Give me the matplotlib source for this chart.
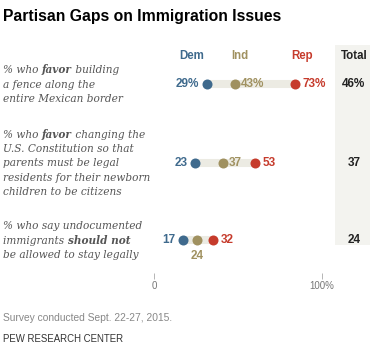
import matplotlib.pyplot as plt
from matplotlib.patches import Rectangle

# data
parties = ['Dem', 'Ind', 'Rep']
party_colors = ['#3f6a8d', '#a09160', '#c63b2c']
dem = [29, 23, 17]
ind = [43, 37, 24]
rep = [73, 53, 32]
total = [46, 37, 24]
dem_labels = ['29%', '23', '17']
ind_labels = ['43%', '37', '24']
rep_labels = ['73%', '53', '32']
total_labels = ['46%', '37', '24']
questions = [
    [[('% who ', False), ('favor', True), (' building', False)],
     [('a fence along the', False)],
     [('entire Mexican border', False)]],
    [[('% who ', False), ('favor', True), (' changing the', False)],
     [('U.S. Constitution so that', False)],
     [('parents must be legal', False)],
     [('residents for their newborn', False)],
     [('children to be citizens', False)]],
    [[('% who say undocumented', False)],
     [('immigrants ', False), ('should not', True)],
     [('be allowed to stay legally', False)]],
]

W, H = 370, 354
fig = plt.figure(figsize=(W / 100, H / 100), dpi=100)
ax = fig.add_axes([0, 0, 1, 1])
# 2 px per percentage point, zero at x=149 px
ax.set_xlim(-149 / 2, (W - 149) / 2)
ax.set_ylim(H, 0)
for s in ax.spines.values():
    s.set_visible(False)
ax.set_xticks([])
ax.set_yticks([])

row_y = [84, 163, 240]
sans = 'Liberation Sans'
serif = 'DejaVu Serif'
q_color = '#555555'

fig.text(3 / W, 1 - 17 / H, 'Partisan Gaps on Immigration Issues',
         fontsize=11.3, fontweight='bold', family=sans, va='center', ha='left')

# total column background
ax.add_patch(Rectangle((93, 45), 20, 200, color='#f3f3ef', lw=0, zorder=0))

# column headers
header_x = [21.5, 45.5, 76.5]
for name, hx, c in zip(parties, header_x, party_colors):
    ax.text(hx, 56, name, color=c, fontsize=8.3, fontweight='bold',
            family=sans, ha='center', va='center')
ax.text(102.5, 56, 'Total', color='#222222', fontsize=8.3, fontweight='bold',
        family=sans, ha='center', va='center')

for i, y in enumerate(row_y):
    # range bar
    ax.hlines(y, dem[i], rep[i], color='#ecebe3', lw=5.8, zorder=1)
    for vals, c in zip([dem, ind, rep], party_colors):
        ax.scatter(vals[i], y, s=52, color=c, zorder=3, lw=0)
    lab_kw = dict(textcoords='offset points', fontsize=8.5, fontweight='bold',
                  family=sans, va='center')
    ax.annotate(dem_labels[i], (dem[i], y), xytext=(-5.5, 0), ha='right',
                color=party_colors[0], **lab_kw)
    if i == 2:
        ax.annotate(ind_labels[i], (ind[i], y), xytext=(0, -11.5), ha='center',
                    color=party_colors[1], **lab_kw)
    else:
        ax.annotate(ind_labels[i], (ind[i], y), xytext=(4, 0), ha='left',
                    color=party_colors[1], **lab_kw)
    ax.annotate(rep_labels[i], (rep[i], y), xytext=(5.5, 0), ha='left',
                color=party_colors[2], **lab_kw)
    ax.text(102.5, y, total_labels[i], color='#222222', fontsize=8.5,
            fontweight='bold', family=sans, ha='center', va='center')

    # question text, centred on the row
    lines = questions[i]
    step = 14.4
    top = y - step * (len(lines) - 1) / 2
    for j, line in enumerate(lines):
        yb = top + j * step + 3.5
        prev = None
        for txt, bold in line:
            kw = dict(fontsize=7.6, family=serif, style='italic', color=q_color,
                      fontweight='bold' if bold else 'normal', va='baseline', ha='left')
            if prev is None:
                prev = ax.text((3 - 149) / 2, yb, txt, **kw)
            else:
                prev = ax.annotate(txt, xy=(1, yb), xycoords=(prev, 'data'), **kw)

# scale reference at bottom
sec = ax.secondary_xaxis(1 - 273 / H, functions=(lambda x: (x - 2.5) / 0.84,
                                                lambda t: 2.5 + 0.84 * t))
sec.set_ticks([0, 100])
sec.set_xticklabels(['0', '100%'])
sec.tick_params(direction='out', length=4, width=0.6, color='#aaaaaa',
                labelsize=7, labelcolor='#777777', pad=2)
for lab in sec.get_xticklabels():
    lab.set_family(sans)
for s in sec.spines.values():
    s.set_visible(False)

fig.text(3 / W, 1 - 318 / H, 'Survey conducted Sept. 22-27, 2015.',
         fontsize=7.4, family=sans, color='#888888', va='center', ha='left')
fig.text(3 / W, 1 - 339 / H, 'PEW RESEARCH CENTER',
         fontsize=6.9, family=sans, color='#333333', va='center', ha='left')

fig.savefig('out.png', dpi=100)
